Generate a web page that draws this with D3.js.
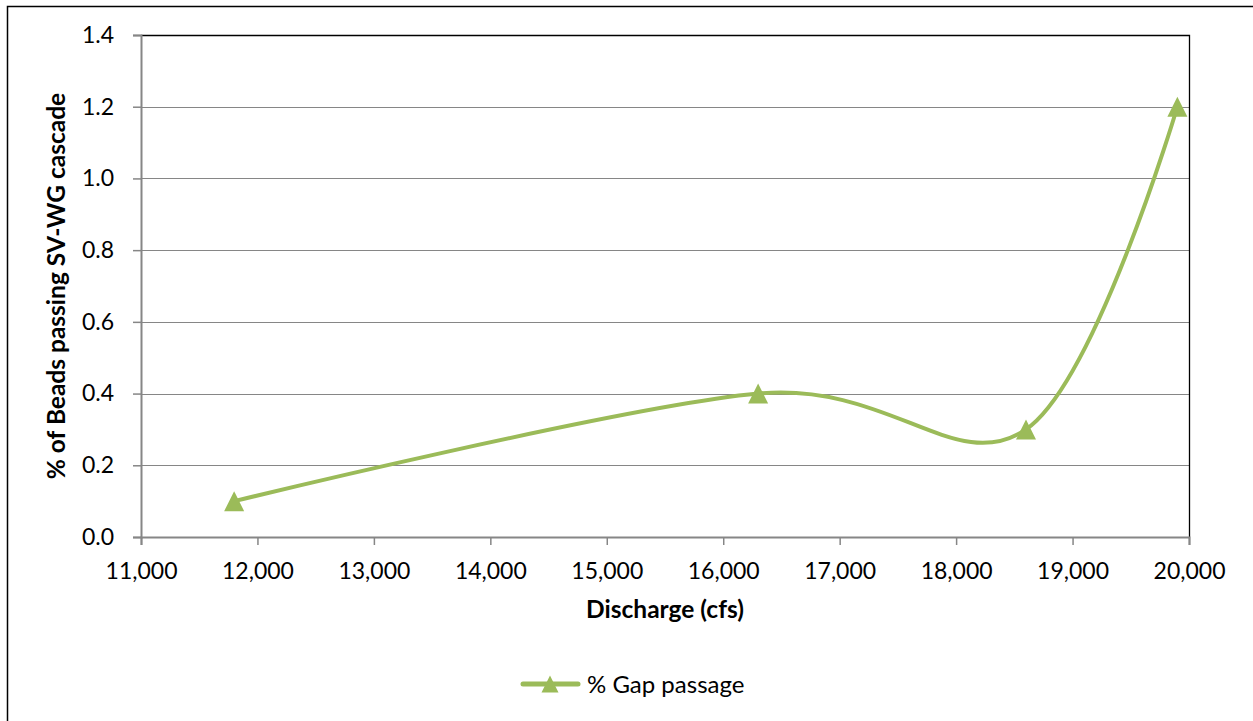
<!DOCTYPE html>
<html>
<head>
<meta charset="utf-8">
<script src="https://cdn.jsdelivr.net/npm/d3@7"></script>
<style>
  html, body { margin: 0; padding: 0; background: #fff; }
  svg { display: block; font-family: Lato, "Open Sans", sans-serif; }
</style>
</head>
<body>
<svg id="chart" width="1253" height="721"></svg>
<script>
// Discharge (cfs) and the share of beads passing the SV-WG cascade
const discharge = [11800, 16300, 18600, 19900];
const gapPassage = [0.1, 0.4, 0.3, 1.2];
const seriesName = "% Gap passage";
const xTicks = [11000, 12000, 13000, 14000, 15000, 16000, 17000, 18000, 19000, 20000];
const yTicks = [0.0, 0.2, 0.4, 0.6, 0.8, 1.0, 1.2, 1.4];

const svg = d3.select("#chart");
const W = 1253, H = 721;
const plot = { left: 141, top: 35, right: 1189, bottom: 537 };
const green = "#9BBB59";
const axisGray = "#868686";

const x = d3.scaleLinear().domain([11000, 20000]).range([plot.left, plot.right]);
const y = d3.scaleLinear().domain([0, 1.4]).range([plot.bottom, plot.top]);

// Triangle marker centred on its bounding box
const triangle = s => `M0,${-s}L${s},${s}L${-s},${s}Z`;

// Outer chart frame
svg.append("rect")
  .attr("x", 7.5).attr("y", 6.5)
  .attr("width", W + 20).attr("height", H + 20)
  .attr("fill", "#fff").attr("stroke", "#000").attr("stroke-width", 1.5);

// Horizontal gridlines
svg.append("g")
  .selectAll("line")
  .data(yTicks.filter(d => d > 0 && d < 1.4))
  .join("line")
  .attr("x1", plot.left).attr("x2", plot.right)
  .attr("y1", d => Math.round(y(d)) + 0.5).attr("y2", d => Math.round(y(d)) + 0.5)
  .attr("stroke", axisGray).attr("stroke-width", 1.2);

// Plot area top and right border
svg.append("path")
  .attr("d", `M${plot.left},${plot.top + 0.5}H${plot.right + 0.5}V${plot.bottom}`)
  .attr("fill", "none").attr("stroke", "#000").attr("stroke-width", 1.3);

// Y axis
const yAxis = svg.append("g")
  .attr("transform", `translate(${plot.left},0)`)
  .call(d3.axisLeft(y).tickValues(yTicks).tickFormat(d3.format(".1f")).tickSize(8).tickPadding(19));
yAxis.select(".domain").attr("stroke", axisGray).attr("stroke-width", 2);
yAxis.selectAll(".tick line").attr("stroke", axisGray).attr("stroke-width", 1.5);
yAxis.selectAll(".tick text").attr("font-size", 23).attr("fill", "#000")
  .attr("font-family", "Lato, sans-serif");

// X axis
const xAxis = svg.append("g")
  .attr("transform", `translate(0,${plot.bottom})`)
  .call(d3.axisBottom(x).tickValues(xTicks).tickFormat(d3.format(",")).tickSize(8).tickPadding(18));
xAxis.select(".domain").attr("stroke", axisGray).attr("stroke-width", 2);
xAxis.selectAll(".tick line").attr("stroke", axisGray).attr("stroke-width", 1.5);
xAxis.selectAll(".tick text").attr("font-size", 23).attr("fill", "#000")
  .attr("font-family", "Lato, sans-serif");

// Axis titles
svg.append("text")
  .attr("x", 665).attr("y", 618)
  .attr("text-anchor", "middle")
  .attr("font-size", 24.5).attr("font-weight", "bold")
  .text("Discharge (cfs)");

svg.append("text")
  .attr("transform", `translate(65,${(plot.top + plot.bottom) / 2}) rotate(-90)`)
  .attr("text-anchor", "middle")
  .attr("font-size", 24.5).attr("font-weight", "bold")
  .text("% of Beads passing SV-WG cascade");

// Smoothed series line
const pts = discharge.map((d, i) => [d, gapPassage[i]]);
const line = d3.line()
  .x(d => x(d[0])).y(d => y(d[1]))
  .curve(d3.curveCatmullRom.alpha(0));

svg.append("path")
  .datum(pts)
  .attr("d", line)
  .attr("fill", "none")
  .attr("stroke", green).attr("stroke-width", 4)
  .attr("stroke-linecap", "round").attr("stroke-linejoin", "round");

// Triangle markers
svg.append("g")
  .selectAll("path")
  .data(pts)
  .join("path")
  .attr("transform", d => `translate(${x(d[0])},${y(d[1])})`)
  .attr("d", triangle(10))
  .attr("fill", green);

// Legend
const leg = svg.append("g").attr("transform", "translate(550,684)");
leg.append("line")
  .attr("x1", -27).attr("x2", 28).attr("y1", 0).attr("y2", 0)
  .attr("stroke", green).attr("stroke-width", 5).attr("stroke-linecap", "round");
leg.append("path").attr("d", triangle(8.5)).attr("fill", green);
leg.append("text")
  .attr("x", 37).attr("y", 9)
  .attr("font-size", 24)
  .text(seriesName);
</script>
</body>
</html>
